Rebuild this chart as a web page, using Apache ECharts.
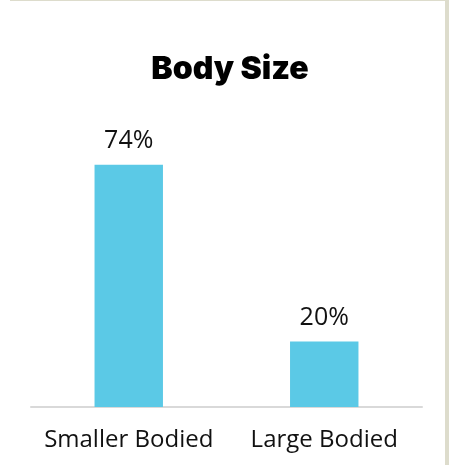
<!DOCTYPE html>
<html>
<head>
<meta charset="utf-8">
<script src="https://cdn.jsdelivr.net/npm/echarts@6/dist/echarts.min.js"></script>
<style>
  html, body { margin: 0; padding: 0; background: #ffffff; }
  #frame { position: absolute; left: 0; top: 0; width: 449px; height: 465px; }
  #topRule { position: absolute; left: 10px; top: 0; width: 437px; height: 1px; background: #dddccc; }
  #sideRule { position: absolute; left: 445px; top: 0; width: 4px; height: 465px; background: #dddccc; }
  #chart { position: absolute; left: 0; top: 0; width: 445px; height: 465px; }
</style>
</head>
<body>
<div id="frame">
  <div id="chart"></div>
  <div id="topRule"></div>
  <div id="sideRule"></div>
</div>
<script>
// Share of respondents by body size
const categories = ['Smaller Bodied', 'Large Bodied'];
const shares = [74, 20];

const chart = echarts.init(document.getElementById('chart'), null, { renderer: 'canvas' });
chart.setOption({
  animation: false,
  backgroundColor: '#ffffff',
  title: {
    text: 'Body Size',
    left: 225,
    top: 48,
    textAlign: 'center',
    textStyle: { fontFamily: 'Inter', fontWeight: 900, fontSize: 32, color: '#000000' }
  },
  grid: { left: 31, right: 23, top: 145, bottom: 58, containLabel: false },
  xAxis: {
    type: 'category',
    data: categories,
    axisLine: { lineStyle: { color: '#d9d9d9', width: 2 } },
    axisTick: { show: false },
    axisLabel: {
      interval: 0,
      hideOverlap: false,
      fontFamily: 'Open Sans',
      fontSize: 24,
      color: '#111111',
      margin: 21
    }
  },
  yAxis: {
    type: 'value',
    min: 0,
    max: 80,
    show: false,
    splitLine: { show: false }
  },
  series: [{
    type: 'bar',
    data: shares,
    barWidth: '35%',
    itemStyle: { color: '#5bc9e6' },
    label: {
      show: true,
      position: 'top',
      distance: 11,
      formatter: '{c}%',
      fontFamily: 'Open Sans',
      fontSize: 25,
      color: '#111111'
    }
  }]
});
</script>
</body>
</html>
